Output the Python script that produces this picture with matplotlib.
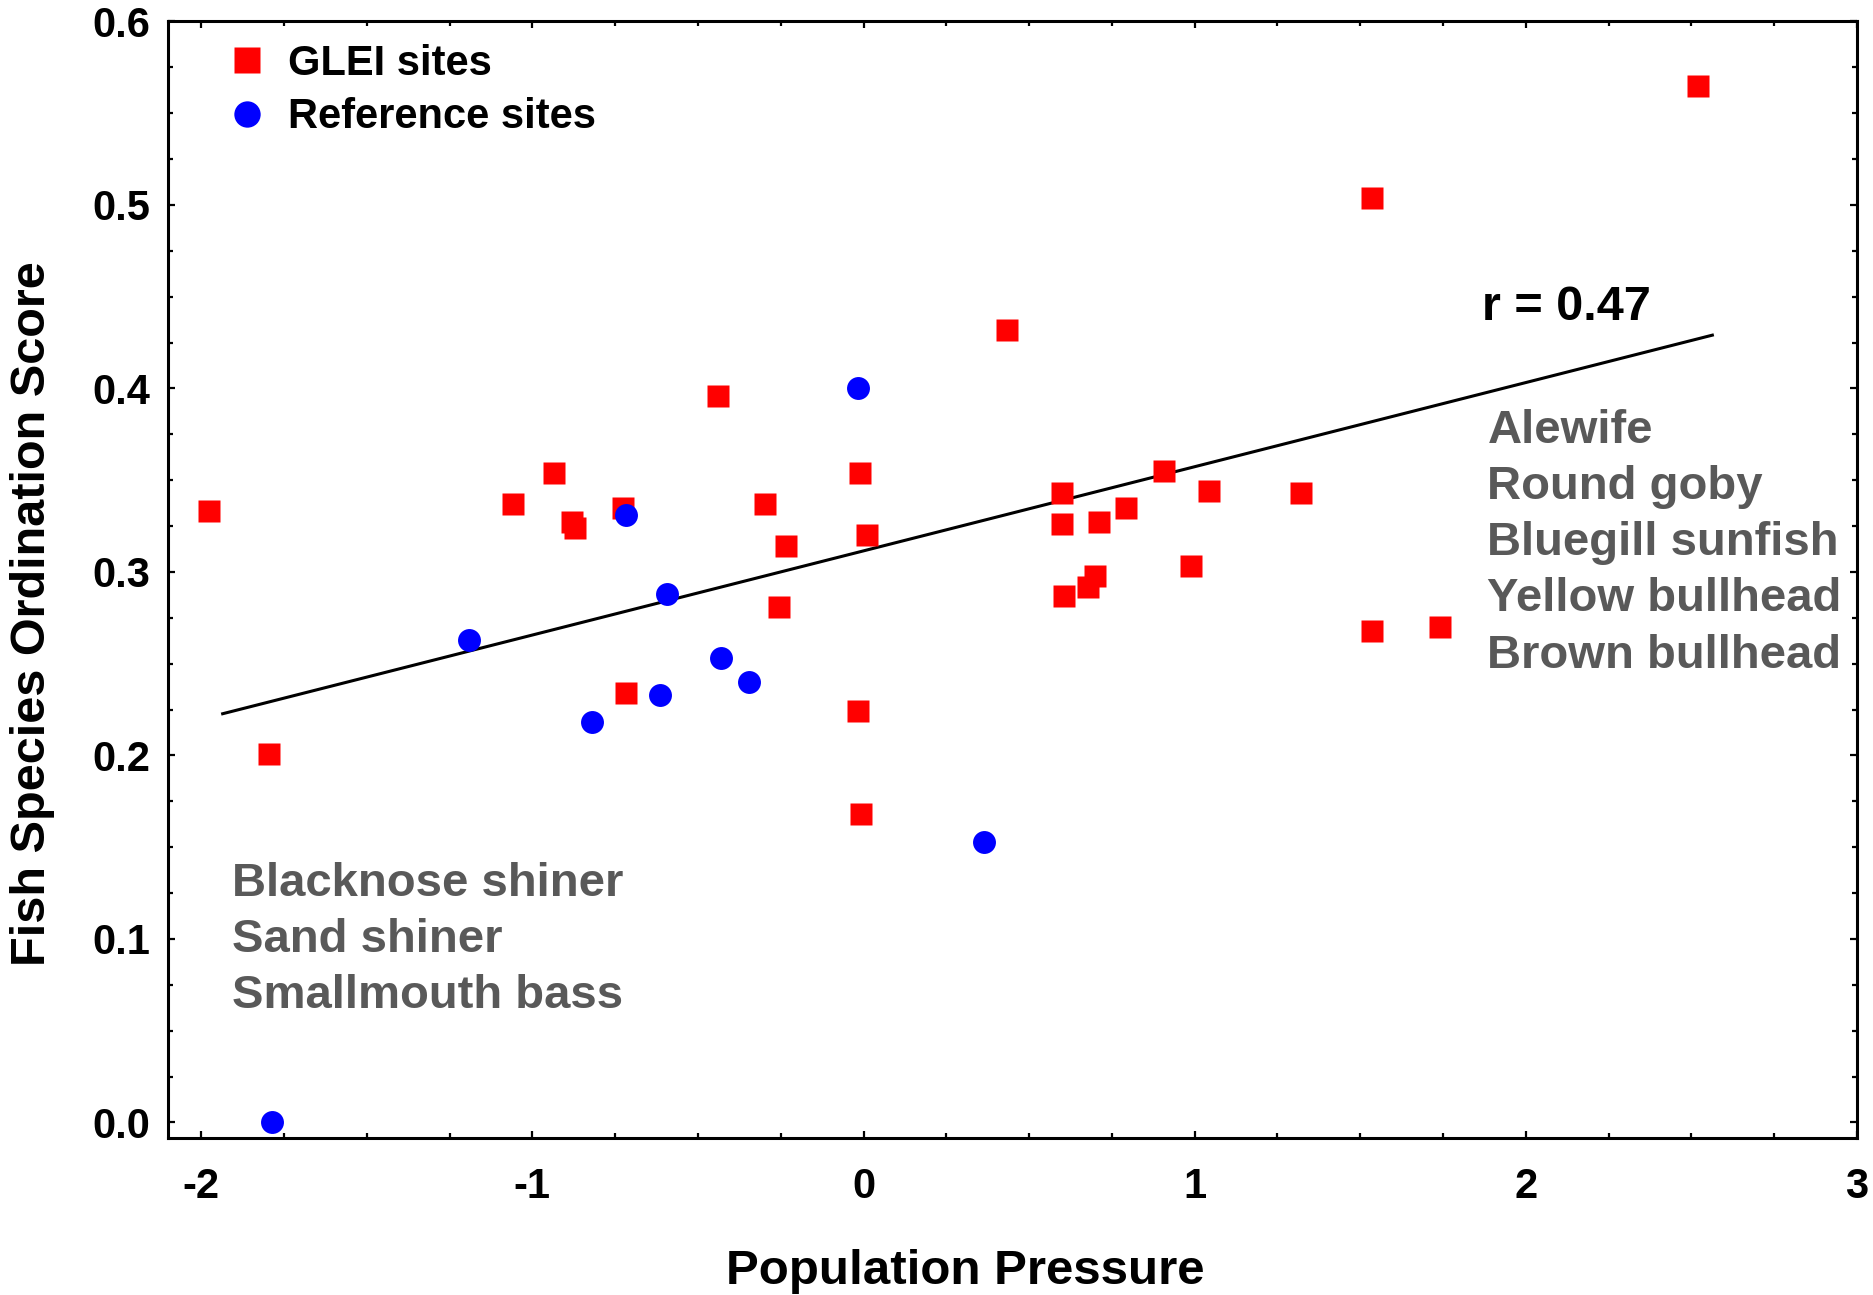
import matplotlib
matplotlib.use("Agg")
import matplotlib.pyplot as plt
from matplotlib.ticker import MultipleLocator, FormatStrFormatter

plt.rcParams['font.family'] = ['Liberation Sans', 'DejaVu Sans']
plt.rcParams['font.weight'] = 'bold'
plt.rcParams['axes.unicode_minus'] = False

# GLEI sites (red squares)
glei_x = [-1.975, -1.794, -1.058, -0.935, -0.881, -0.870, -0.726, -0.718,
          -0.440, -0.296, -0.256, -0.235, -0.018, -0.011, -0.007, 0.011,
          0.433, 0.599, 0.599, 0.606, 0.679, 0.700, 0.711, 0.794,
          0.906, 0.989, 1.043, 1.321, 1.534, 1.534, 1.740, 2.520]
glei_y = [0.333, 0.201, 0.337, 0.354, 0.327, 0.324, 0.335, 0.234,
          0.396, 0.337, 0.281, 0.314, 0.224, 0.354, 0.168, 0.320,
          0.432, 0.343, 0.326, 0.287, 0.292, 0.298, 0.327, 0.335,
          0.355, 0.303, 0.344, 0.343, 0.504, 0.268, 0.270, 0.565]

# Reference sites (blue circles)
ref_x = [-1.787, -1.191, -0.819, -0.718, -0.614, -0.592, -0.430, -0.347, -0.018, 0.365]
ref_y = [0.000, 0.263, 0.218, 0.331, 0.233, 0.288, 0.253, 0.240, 0.400, 0.153]

# regression line
fit_x = [-1.935, 2.563]
fit_slope = 0.04587
fit_intercept = 0.3115

right_species = ["Alewife", "Round goby", "Bluegill sunfish", "Yellow bullhead", "Brown bullhead"]
left_species = ["Blacknose shiner", "Sand shiner", "Smallmouth bass"]

fig = plt.figure(figsize=(18.73, 12.95), dpi=100)
ax = fig.add_axes([0.0897, 0.1212, 0.9018, 0.8622])

fit_y = [fit_intercept + fit_slope * x for x in fit_x]
ax.plot(fit_x, fit_y, color='black', lw=2.2, zorder=2)

ax.plot(glei_x, glei_y, 's', color='#ff0000', ms=16.5, mec='none', ls='none',
        label='GLEI sites', zorder=3)
ax.plot(ref_x, ref_y, 'o', color='#0000ff', ms=16.5, mec='none', ls='none',
        label='Reference sites', zorder=3)

ax.set_xlim(-2.1, 3.0)
ax.set_ylim(-0.0085, 0.6)

ax.xaxis.set_major_locator(MultipleLocator(1))
ax.xaxis.set_minor_locator(MultipleLocator(0.25))
ax.yaxis.set_major_locator(MultipleLocator(0.1))
ax.yaxis.set_minor_locator(MultipleLocator(0.025))
ax.xaxis.set_major_formatter(FormatStrFormatter('%d'))
ax.yaxis.set_major_formatter(FormatStrFormatter('%.1f'))

ax.tick_params(which='both', direction='in', top=True, right=True, width=1.6)
ax.tick_params(which='major', length=5)
ax.tick_params(which='minor', length=3.5)
ax.tick_params(axis='x', which='major', labelsize=30, pad=21)
ax.tick_params(axis='y', which='major', labelsize=30, pad=13)
for s in ax.spines.values():
    s.set_linewidth(2.2)

ax.set_xlabel("Population Pressure", fontsize=35.5, fontweight='bold', va='center')
ax.xaxis.set_label_coords(0.472, -0.1196)
ax.set_ylabel("Fish Species Ordination Score", fontsize=35, fontweight='bold', va='center')
ax.yaxis.set_label_coords(-0.080, 0.470)

ax.text(1.866, 0.444, "r = 0.47", fontsize=35, fontweight='bold', color='black',
        ha='left', va='center')
ax.text(1.884, 0.3157, "\n".join(right_species), fontsize=34, fontweight='bold',
        color='#595959', ha='left', va='center', linespacing=1.36)
ax.text(-1.906, 0.0996, "\n".join(left_species), fontsize=34, fontweight='bold',
        color='#595959', ha='left', va='center', linespacing=1.35)

ax.legend(loc='upper left', frameon=False, fontsize=30, handletextpad=0.5,
          labelspacing=0.32, borderaxespad=0.3, handlelength=1.0,
          markerscale=1.15, bbox_to_anchor=(0.017, 1.006))

fig.savefig("out.png", dpi=100)
